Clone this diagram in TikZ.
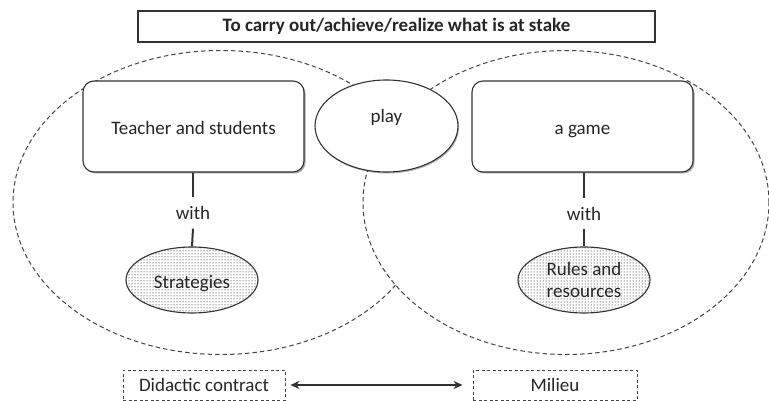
\documentclass[tikz,border=0pt]{standalone}
\usepackage{fontspec}
\setmainfont{Carlito}
\usetikzlibrary{shapes.geometric,patterns,shadows,arrows.meta}
\definecolor{txt}{HTML}{262626}
\definecolor{ln}{HTML}{333333}
\definecolor{dsh}{HTML}{454545}
\begin{document}
\begin{tikzpicture}[x=1pt,y=-1pt,
  every node/.style={font=\fontsize{19}{22}\selectfont, text=txt},
  titlebox/.style={draw=ln, line width=1.1pt, minimum width=517pt, minimum height=31pt, inner sep=0pt, font=\fontsize{19}{22}\selectfont\bfseries},
  bigell/.style={ellipse, draw=dsh, fill=white, line width=1pt, dash pattern=on 4.5pt off 3pt, inner sep=0pt},
  mainbox/.style={draw=ln, fill=white, line width=1.1pt, rounded corners=11pt, minimum width=221pt, minimum height=91pt, inner sep=0pt, text height=17pt, text depth=0pt,
    drop shadow={shadow xshift=1.5pt, shadow yshift=-1.5pt, fill=black, opacity=0.35}},
  playell/.style={ellipse, draw=ln, fill=white, line width=1.1pt, minimum width=143pt, minimum height=92pt, inner sep=0pt,
    drop shadow={shadow xshift=1pt, shadow yshift=-1.5pt, fill=black, opacity=0.3}},
  dotell/.style={ellipse, draw=ln, line width=1.1pt, pattern=dots, pattern color=black, minimum width=132pt, minimum height=66pt, inner sep=0pt, align=center},
  withlbl/.style={inner sep=0pt, minimum height=31pt},
  link/.style={draw=ln, line width=2pt},
  dashbox/.style={draw=dsh, line width=0.9pt, dash pattern=on 3pt off 2.5pt, minimum height=30pt, inner sep=0pt},
  twoway/.style={draw=ln, line width=1.5pt, {Stealth[length=9pt,width=8pt]}-{Stealth[length=9pt,width=8pt]}}
]
\useasboundingbox (0,0) rectangle (769,401);

\node[titlebox] (title) at (396.5,26.5) {To carry out/achieve/realize what is at stake};

\node[bigell, minimum width=416pt, minimum height=304pt] (lefte) at (221,202.5) {};
\node[bigell, minimum width=406pt, minimum height=304pt] (righte) at (566,202.5) {};
\node[playell, text height=12pt, text depth=18pt] (play) at (386.5,126) {play};

\node[mainbox] (teach) at (193.5,126.5) {Teacher and students};
\node[mainbox] (game) at (582.5,126.5) {a game};

\node[withlbl] (with1) at (193,213) {with};
\node[withlbl] (with2) at (584,213.5) {with};

\node[dotell, text height=20pt, text depth=4pt] (strat) at (192,280) {Strategies};
\node[dotell] (rules) at (584,280) {Rules and\\resources};

\draw[link] (teach.south -| with1) -- (with1.north);
\draw[link] (with1.south) -- (strat.north);
\draw[link] (game.south -| with2) -- (with2.north);
\draw[link] (with2.south) -- (rules.north);

\node[dashbox, minimum width=162pt] (dc) at (204,385) {Didactic contract};
\node[dashbox, minimum width=164pt] (mil) at (555,385) {Milieu};
\draw[twoway, shorten <=5pt, shorten >=10pt] (dc.east) -- (mil.west);
\end{tikzpicture}
\end{document}
